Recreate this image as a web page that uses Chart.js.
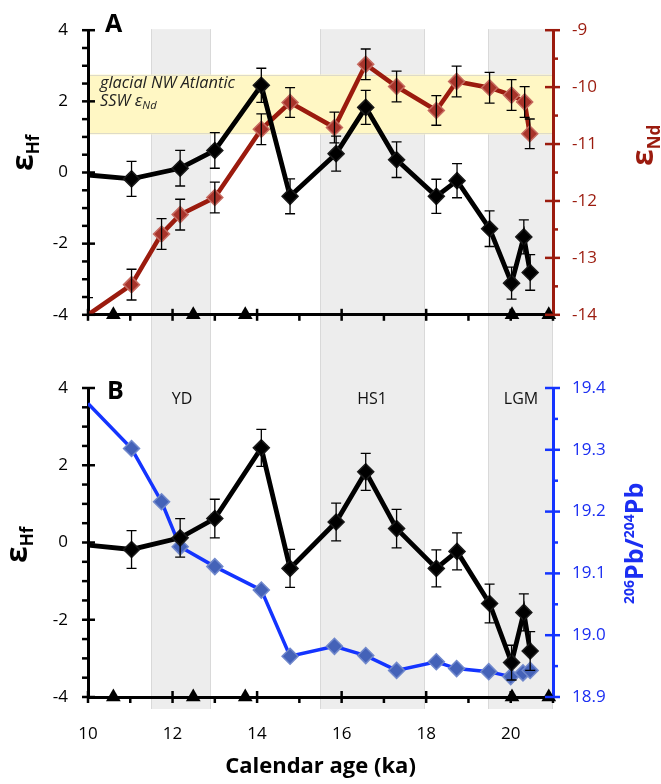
<!DOCTYPE html>
<html><head><meta charset="utf-8">
<script src="https://cdn.jsdelivr.net/npm/chart.js@4.4.1/dist/chart.umd.min.js"></script>
<style>
html,body{margin:0;padding:0;background:#fff;}
#wrap{position:relative;width:661px;height:784px;overflow:hidden;}
#c1{position:absolute;left:0;top:0;}
#c2{position:absolute;left:0;top:345px;}
</style></head><body>
<div id="wrap"><canvas id="c1" width="661" height="345"></canvas><canvas id="c2" width="661" height="439"></canvas></div>
<script>
// ---------- data ----------
const hfAge = [10.0, 11.03, 12.18, 13.0, 14.1, 14.78, 15.87, 16.57, 17.30, 18.24, 18.73, 19.50, 20.02, 20.31, 20.46];
const hfVal = [-0.07, -0.18, 0.12, 0.62, 2.45, -0.67, 0.53, 1.83, 0.36, -0.67, -0.23, -1.58, -3.11, -1.81, -2.81];
const hfErr = [0, 0.49, 0.5, 0.5, 0.48, 0.49, 0.49, 0.48, 0.5, 0.48, 0.48, 0.5, 0.45, 0.48, 0.5];

const ndAge = [10.0, 11.03, 11.74, 12.18, 13.0, 14.1, 14.78, 15.83, 16.57, 17.30, 18.24, 18.72, 19.50, 20.02, 20.33, 20.45];
const ndVal = [-14.0, -13.47, -12.58, -12.24, -11.94, -10.74, -10.27, -10.71, -9.60, -9.99, -10.41, -9.90, -10.01, -10.14, -10.26, -10.82];
const ndErr = [0.3, 0.27, 0.27, 0.27, 0.27, 0.27, 0.26, 0.27, 0.27, 0.27, 0.26, 0.27, 0.27, 0.27, 0.27, 0.26];

const pbAge = [10.0, 11.03, 11.74, 12.18, 13.0, 14.1, 14.78, 15.83, 16.57, 17.30, 18.24, 18.72, 19.48, 20.0, 20.29, 20.46];
const pbVal = [19.375, 19.302, 19.216, 19.143, 19.111, 19.073, 18.966, 18.982, 18.967, 18.943, 18.957, 18.946, 18.941, 18.933, 18.939, 18.943];

const triAge = [10.6, 12.49, 13.72, 20.03, 20.9];

const bandPeriods = [[11.5, 12.9], [15.48, 17.97], [19.46, 21]];
const bandNames = ['YD', 'HS1', 'LGM'];
const sswNdBand = [-10.83, -9.78];

const xTicks = [10, 12, 14, 16, 18, 20];
const hfTicks = [-4, -2, 0, 2, 4];
const ndTicks = [-14, -13, -12, -11, -10, -9];
const pbTicks = [18.9, 19.0, 19.1, 19.2, 19.3, 19.4];

// ---------- style ----------
const RED = '#9B1B0E';
const BLUE = '#1434FF';
const BLUE_TXT = '#1B2EF2';
const FONT = "'Open Sans', sans-serif";
Chart.defaults.font.family = FONT;

function drawRotated(ctx, x, y, parts, color) {
  ctx.save();
  ctx.translate(x, y);
  ctx.rotate(-Math.PI / 2);
  ctx.fillStyle = color;
  ctx.textBaseline = 'alphabetic';
  ctx.textAlign = 'left';
  let cx = 0;
  parts.forEach(p => {
    ctx.font = p.font;
    ctx.fillText(p.t, cx, p.dy || 0);
    cx += ctx.measureText(p.t).width;
  });
  ctx.restore();
}

function fitSize(ctx, text, style, target) {
  ctx.font = style + ' 20px ' + FONT;
  const w = ctx.measureText(text).width;
  return 20 * target / w;
}

function tickLoop(n, fn) { for (let k = 0; k <= n; k++) fn(k); }

const deco = {
  id: 'deco',
  beforeDraw(chart, args, o) {
    const {ctx, chartArea: ca, scales} = chart;
    const x = scales.x;
    ctx.save();
    const y0 = o.panel === 'A' ? ca.top - 1 : 0;
    const y1 = o.panel === 'A' ? chart.height : ca.bottom + 12;
    bandPeriods.forEach(([a, b]) => {
      const xa = Math.round(x.getPixelForValue(a)), xb = Math.round(x.getPixelForValue(b));
      ctx.fillStyle = '#EDEDED';
      ctx.fillRect(xa, y0, xb - xa, y1 - y0);
      ctx.strokeStyle = '#D9D9D9'; ctx.lineWidth = 1;
      ctx.beginPath();
      ctx.moveTo(xa + 0.5, y0); ctx.lineTo(xa + 0.5, y1);
      ctx.moveTo(xb - 0.5, y0); ctx.lineTo(xb - 0.5, y1);
      ctx.stroke();
    });
    if (o.panel === 'A') {
      const y2 = scales.y2;
      const yt = y2.getPixelForValue(sswNdBand[1]), yb = y2.getPixelForValue(sswNdBand[0]);
      ctx.fillStyle = '#FFF7C4';
      ctx.fillRect(ca.left, yt, ca.right - ca.left, yb - yt);
      ctx.strokeStyle = '#DEDBC8'; ctx.lineWidth = 1;
      ctx.beginPath();
      ctx.moveTo(ca.left, Math.round(yt) + 0.5); ctx.lineTo(ca.right, Math.round(yt) + 0.5);
      ctx.moveTo(ca.left, Math.round(yb) - 0.5); ctx.lineTo(ca.right, Math.round(yb) - 0.5);
      ctx.stroke();
      ctx.fillStyle = '#222';
      ctx.textBaseline = 'alphabetic'; ctx.textAlign = 'left';
      const fs = Math.min(17, Math.max(12, fitSize(ctx, 'glacial NW Atlantic', 'italic', 135)));
      ctx.font = 'italic ' + fs.toFixed(2) + 'px ' + FONT;
      ctx.fillText('glacial NW Atlantic', 100, 88);
      let cx = 100;
      ctx.fillText('SSW ', cx, 106); cx += ctx.measureText('SSW ').width;
      ctx.font = 'italic ' + (fs * 1.05).toFixed(2) + 'px ' + FONT;
      ctx.fillText('ε', cx, 106); cx += ctx.measureText('ε').width;
      ctx.font = 'italic ' + (fs * 0.68).toFixed(2) + 'px ' + FONT;
      ctx.fillText('Nd', cx, 109);
    } else {
      ctx.fillStyle = '#111';
      ctx.font = '16px ' + FONT;
      ctx.textAlign = 'center'; ctx.textBaseline = 'alphabetic';
      const lx = [182, 372, 521];
      bandNames.forEach((n, i) => ctx.fillText(n, lx[i], 59));
    }
    ctx.restore();
  },
  afterDatasetsDraw(chart) {
    const {ctx, chartArea: ca, scales} = chart;
    ctx.save();
    ctx.beginPath(); ctx.rect(ca.left, ca.top, ca.right - ca.left, ca.bottom - ca.top); ctx.clip();
    ctx.strokeStyle = '#000'; ctx.lineWidth = 1.3;
    chart.data.datasets.forEach(ds => {
      if (!ds.errors) return;
      const ys = scales[ds.yAxisID];
      ds.data.forEach((p, j) => {
        const e = ds.errors[j];
        if (!e) return;
        const px = scales.x.getPixelForValue(p.x);
        const yt = ys.getPixelForValue(p.y + e), yb = ys.getPixelForValue(p.y - e);
        ctx.beginPath();
        ctx.moveTo(px, yt); ctx.lineTo(px, yb);
        ctx.moveTo(px - 5, yt); ctx.lineTo(px + 5, yt);
        ctx.moveTo(px - 5, yb); ctx.lineTo(px + 5, yb);
        ctx.stroke();
      });
    });
    ctx.restore();
  },
  afterDraw(chart, args, o) {
    const {ctx, chartArea: ca, scales} = chart;
    ctx.save();
    ctx.lineWidth = 2.5;
    ctx.strokeStyle = '#000';
    tickLoop(11, k => {
      const v = 10 + k, px = scales.x.getPixelForValue(v);
      ctx.beginPath();
      ctx.moveTo(px, v % 2 === 0 ? ca.bottom - 6 : ca.bottom);
      ctx.lineTo(px, ca.bottom + 6);
      ctx.stroke();
    });
    tickLoop(16, k => {
      const v = -4 + k * 0.5, py = scales.y.getPixelForValue(v);
      const major = k % 4 === 0;
      ctx.beginPath();
      ctx.moveTo(ca.left - 6, py);
      ctx.lineTo(major ? ca.left + 7 : ca.left, py);
      ctx.stroke();
    });
    const y2 = scales.y2;
    ctx.strokeStyle = o.panel === 'A' ? RED : BLUE;
    tickLoop(10, k => {
      const v = o.panel === 'A' ? -14 + k * 0.5 : 18.9 + k * 0.05;
      const py = y2.getPixelForValue(v);
      const major = k % 2 === 0;
      ctx.beginPath();
      ctx.moveTo(major ? ca.right - 8 : ca.right, py);
      ctx.lineTo(ca.right + (major ? 7 : 5), py);
      ctx.stroke();
    });
    if (o.panel === 'A') {
      drawRotated(ctx, 33, 171, [
        {t: 'ε', font: 'bold 30px ' + FONT},
        {t: 'Hf', font: 'bold 17px ' + FONT, dy: 6}], '#000');
      drawRotated(ctx, 653, 166, [
        {t: 'ε', font: 'bold 30px ' + FONT},
        {t: 'Nd', font: 'bold 17px ' + FONT, dy: 7}], RED);
      ctx.fillStyle = '#000';
      ctx.font = 'bold 25px ' + FONT;
      ctx.textAlign = 'left'; ctx.textBaseline = 'alphabetic';
      ctx.fillText('A', 105, 32);
    } else {
      drawRotated(ctx, 27, 218, [
        {t: 'ε', font: 'bold 30px ' + FONT},
        {t: 'Hf', font: 'bold 17px ' + FONT, dy: 6}], '#000');
      drawRotated(ctx, 643, 259, [
        {t: '206', font: 'bold 14px ' + FONT, dy: -9},
        {t: 'Pb', font: 'bold 25px ' + FONT},
        {t: '/', font: 'bold 25px ' + FONT},
        {t: '204', font: 'bold 14px ' + FONT, dy: -9},
        {t: 'Pb', font: 'bold 25px ' + FONT}], BLUE_TXT);
      ctx.fillStyle = '#000';
      ctx.font = 'bold 25px ' + FONT;
      ctx.textAlign = 'left'; ctx.textBaseline = 'alphabetic';
      ctx.fillText('B', 107, 54);
    }
    ctx.restore();
  }
};

function setTicks(arr) { return s => { s.ticks = arr.map(v => ({value: v})); }; }

function hfDataset() {
  return {
    label: 'εHf', type: 'line',
    data: hfAge.map((a, i) => ({x: a, y: hfVal[i]})),
    yAxisID: 'y', errors: hfErr,
    borderColor: '#000', borderWidth: 4.8, tension: 0,
    pointStyle: 'rectRot', pointRadius: c => c.dataIndex === 0 ? 0 : 8,
    pointBackgroundColor: '#000', pointBorderColor: '#1a1a1a', pointBorderWidth: 1.5,
    order: 1
  };
}
function triDataset() {
  return {
    label: 'age control', type: 'scatter',
    data: triAge.map(a => ({x: a, y: -4})),
    yAxisID: 'y', showLine: false, clip: false,
    pointStyle: 'triangle', pointRadius: 8.5,
    backgroundColor: '#000', borderColor: '#000', borderWidth: 0,
    order: 0
  };
}
function xScale(showLabels, h) {
  return {
    type: 'linear', position: 'bottom', min: 10, max: 21,
    afterBuildTicks: setTicks(xTicks),
    ticks: {display: showLabels, color: '#000', font: {size: 17}, padding: 27, maxRotation: 0, autoSkip: false},
    grid: {display: false, drawTicks: false},
    border: {display: true, color: '#000', width: 3},
    title: {display: showLabels, text: 'Calendar age (ka)', color: '#000',
            font: {size: 22, weight: 'bold', family: FONT}, padding: {top: 0, bottom: 4}},
    afterFit: s => { s.height = h; }
  };
}
function hfScale() {
  return {
    type: 'linear', position: 'left', min: -4, max: 4,
    afterBuildTicks: setTicks(hfTicks),
    ticks: {color: '#000', font: {size: 17}, padding: 20, callback: v => String(v)},
    grid: {display: false, drawTicks: false},
    border: {display: true, color: '#000', width: 3},
    afterFit: s => { s.width = 88; }
  };
}

const common = {responsive: false, animation: false, devicePixelRatio: 1, events: []};

new Chart(document.getElementById('c1'), {
  type: 'line',
  data: {datasets: [
    triDataset(),
    hfDataset(),
    {
      label: 'εNd', type: 'line',
      data: ndAge.map((a, i) => ({x: a, y: ndVal[i]})),
      yAxisID: 'y2', errors: ndErr,
      borderColor: RED, borderWidth: 4.5, tension: 0,
      pointStyle: 'rectRot', pointRadius: c => c.dataIndex === 0 ? 0 : 8,
      pointBackgroundColor: '#A8342B', pointBorderColor: '#C66A60', pointBorderWidth: 1.5,
      order: 2
    }
  ]},
  options: Object.assign({}, common, {
    layout: {padding: {top: 13, left: 0, right: 0, bottom: 0}},
    plugins: {legend: {display: false}, tooltip: {enabled: false}, deco: {panel: 'A'}},
    scales: {
      x: xScale(false, 24),
      y: hfScale(),
      y2: {
        type: 'linear', position: 'right', min: -14, max: -9,
        afterBuildTicks: setTicks(ndTicks),
        ticks: {color: RED, font: {size: 17}, padding: 19, callback: v => String(v)},
        grid: {display: false, drawTicks: false},
        border: {display: true, color: RED, width: 3},
        afterFit: s => { s.width = 108; }
      }
    }
  }),
  plugins: [deco]
});

new Chart(document.getElementById('c2'), {
  type: 'line',
  data: {datasets: [
    triDataset(),
    hfDataset(),
    {
      label: '206Pb/204Pb', type: 'line',
      data: pbAge.map((a, i) => ({x: a, y: pbVal[i]})),
      yAxisID: 'y2',
      borderColor: BLUE, borderWidth: 3.5, tension: 0,
      pointStyle: 'rectRot', pointRadius: c => c.dataIndex === 0 ? 0 : 8,
      pointBackgroundColor: '#4462B8', pointBorderColor: '#7088CC', pointBorderWidth: 1.5,
      order: 2
    }
  ]},
  options: Object.assign({}, common, {
    layout: {padding: {top: 43, left: 0, right: 0, bottom: 0}},
    plugins: {legend: {display: false}, tooltip: {enabled: false}, deco: {panel: 'B'}},
    scales: {
      x: xScale(true, 87),
      y: hfScale(),
      y2: {
        type: 'linear', position: 'right', min: 18.9, max: 19.4,
        afterBuildTicks: setTicks(pbTicks),
        ticks: {color: BLUE_TXT, font: {size: 17}, padding: 19, callback: v => Number(v).toFixed(1)},
        grid: {display: false, drawTicks: false},
        border: {display: true, color: BLUE, width: 3},
        afterFit: s => { s.width = 108; }
      }
    }
  }),
  plugins: [deco]
});
</script>
</body></html>
